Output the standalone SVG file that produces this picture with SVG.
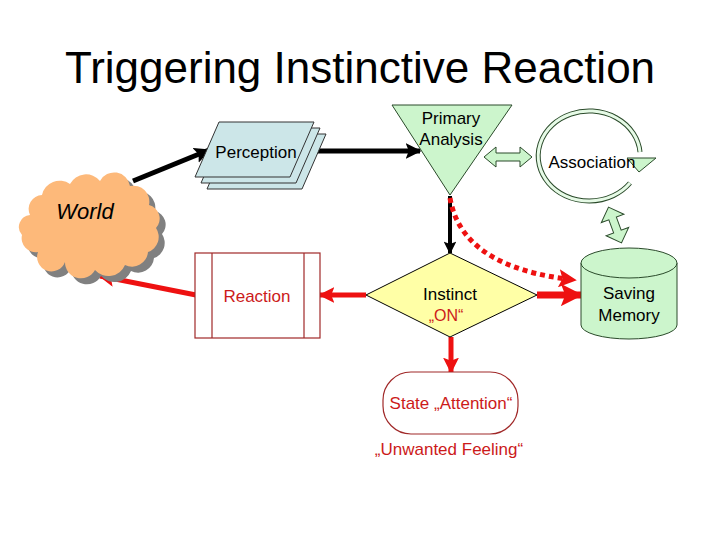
<svg xmlns="http://www.w3.org/2000/svg" width="720" height="540" viewBox="0 0 720 540">
<defs>
<style>
text{font-family:"Liberation Sans",Arial,sans-serif;}
.lbl{font-size:17px;fill:#000;text-anchor:middle;}
.red{font-size:17px;fill:#cc1a1a;text-anchor:middle;}
.thin{stroke:#333;stroke-width:1;}
.rbox{fill:#fff;stroke:#a02828;stroke-width:1.2;}
.green{fill:#ccf5cc;stroke:#2a4a2a;stroke-width:1;}
</style>
<marker id="ab" viewBox="0 0 10 10" refX="9" refY="5" markerWidth="3.2" markerHeight="3.2" orient="auto" markerUnits="strokeWidth"><path d="M0,0 L10,5 L0,10 L2,5 Z" fill="#000"/></marker>
<marker id="ar" viewBox="0 0 10 10" refX="9" refY="5" markerWidth="3.2" markerHeight="3.2" orient="auto" markerUnits="strokeWidth"><path d="M0,0 L10,5 L0,10 L2,5 Z" fill="#ee1111"/></marker>
<marker id="ard" viewBox="0 0 10 10" refX="9" refY="5" markerWidth="3.6" markerHeight="3.6" orient="auto" markerUnits="strokeWidth"><path d="M0,0 L10,5 L0,10 L2,5 Z" fill="#ee1111"/></marker>
<path id="cloud" d="M30,215 A14,14 0 0 1 42,195 A18,18 0 0 1 70,184 A18,18 0 0 1 100,181 A16,16 0 0 1 130,186 A16,16 0 0 1 149,205 A14,14 0 0 1 156,228 A16,16 0 0 1 148,252 A16,16 0 0 1 125,265 A18,18 0 0 1 95,270 A16,16 0 0 1 65,262 A14,14 0 0 1 38,252 A14,14 0 0 1 22,235 A12,12 0 0 1 30,215 Z"/>
</defs>
<rect width="720" height="540" fill="#fff"/>
<text x="360" y="83" style="font-size:44px;text-anchor:middle;fill:#000">Triggering Instinctive Reaction</text>

<g id="connectors">
<line x1="133" y1="181" x2="209" y2="150" stroke="#000" stroke-width="5" marker-end="url(#ab)"/>
<line x1="314" y1="151" x2="420" y2="151" stroke="#000" stroke-width="5" marker-end="url(#ab)"/>
<line x1="450" y1="196" x2="450" y2="253" stroke="#000" stroke-width="4" marker-end="url(#ab)"/>
<path d="M450,198 C458,245 500,272 575,280" fill="none" stroke="#ee1111" stroke-width="5" stroke-dasharray="5,4" marker-end="url(#ard)"/>
<line x1="537" y1="295" x2="581" y2="295" stroke="#ee1111" stroke-width="7" marker-end="url(#ar)"/>
<line x1="366" y1="295" x2="320" y2="295" stroke="#ee1111" stroke-width="5" marker-end="url(#ar)"/>
<line x1="196" y1="295" x2="100" y2="276" stroke="#ee1111" stroke-width="5" marker-end="url(#ar)"/>
<line x1="451" y1="337" x2="451" y2="372" stroke="#ee1111" stroke-width="5" marker-end="url(#ar)"/>
<path d="M484,157 L496,147 L496,153 L520,153 L520,147 L532,157 L520,167 L520,161 L496,161 L496,167 Z" class="green"/>
<g transform="translate(615,225) rotate(-20)">
<path d="M0,-19 L12,-7 L4,-7 L4,7 L12,7 L0,19 L-12,7 L-4,7 L-4,-7 L-12,-7 Z" class="green"/>
</g>
</g>

<g id="world">
<use href="#cloud" transform="translate(6,6)" fill="#808080"/>
<use href="#cloud" fill="#fdb97a"/>
<text x="85" y="219" style="font-size:22px;font-style:italic;text-anchor:middle;fill:#000">World</text>
</g>

<g id="perception">
<path d="M231,134 L326,134 L302,189 L207,189 Z" fill="#cce6e8" class="thin"/>
<path d="M225,128 L320,128 L296,183 L201,183 Z" fill="#cce6e8" class="thin"/>
<path d="M219,122 L314,122 L290,177 L195,177 Z" fill="#cce6e8" class="thin"/>
<text x="256" y="158" class="lbl">Perception</text>
</g>

<g id="primary">
<path d="M392,105 L512,105 L450,195 Z" class="green"/>
<text x="451" y="124" class="lbl">Primary</text>
<text x="451" y="145" class="lbl">Analysis</text>
</g>

<g id="association">
<path d="M630,183 A51,45 0 1 1 640,152" fill="none" stroke="#2a4a2a" stroke-width="5"/>
<path d="M630,183 A51,45 0 1 1 640,152" fill="none" stroke="#e6fae6" stroke-width="3"/>
<path d="M627,158 L656,158 L639,172 Z" class="green"/>
<text x="592" y="168" class="lbl">Association</text>
</g>

<g id="memory">
<path d="M581,263 L581,325 A48,14 0 0 0 677,325 L677,263" class="green"/>
<ellipse cx="629" cy="263" rx="48" ry="15" class="green"/>
<text x="629" y="299" class="lbl">Saving</text>
<text x="629" y="321" class="lbl">Memory</text>
</g>

<g id="instinct">
<path d="M366,295 L450,253 L537,295 L450,337 Z" fill="#ffffa6" stroke="#000" stroke-width="1"/>
<text x="450" y="300" class="lbl">Instinct</text>
<text x="446" y="321" class="red" style="font-size:16px">„ON“</text>
</g>

<g id="reaction">
<rect x="195" y="253" width="125" height="85" class="rbox"/>
<line x1="212" y1="253" x2="212" y2="338" stroke="#a02828" stroke-width="1.2"/>
<line x1="304" y1="253" x2="304" y2="338" stroke="#a02828" stroke-width="1.2"/>
<text x="257" y="302" class="red">Reaction</text>
</g>

<g id="state">
<rect x="383" y="372" width="135" height="62" rx="28" ry="28" class="rbox"/>
<text x="451" y="409" class="red">State „Attention“</text>
</g>

<g id="feeling">
<text x="449" y="455" class="red">„Unwanted Feeling“</text>
</g>
</svg>
